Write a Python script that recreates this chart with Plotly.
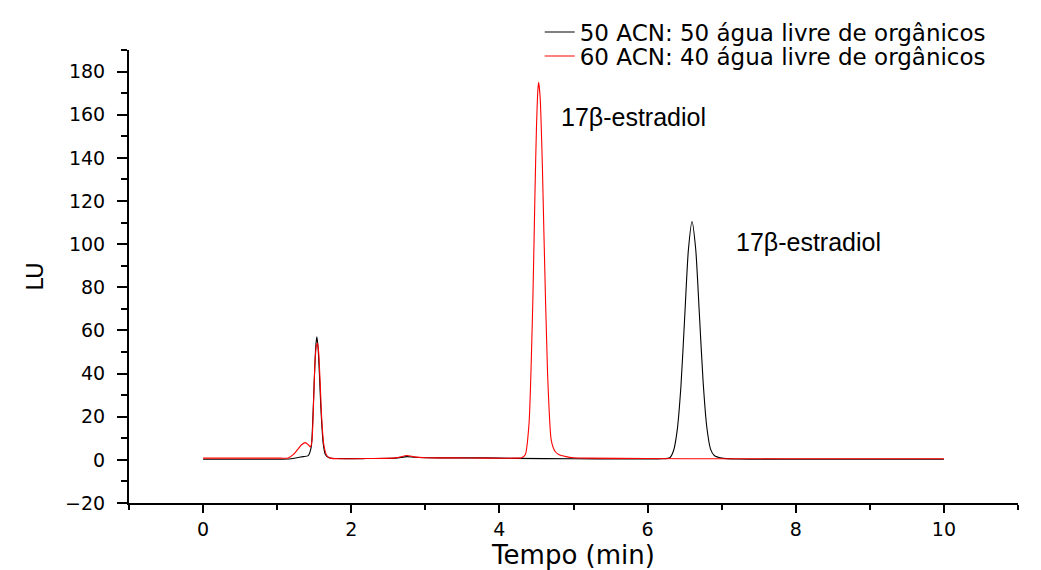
import plotly.graph_objects as go

# 50 ACN : 50 água (black)
t_black = [0.0, 0.5, 1.0, 1.15, 1.25, 1.35, 1.42, 1.46, 1.48, 1.50, 1.52, 1.535, 1.55, 1.57, 1.59, 1.62, 1.65, 1.70, 1.80,
           2.2, 2.6, 2.75, 2.85, 3.0, 3.4, 3.8, 4.2, 5.0, 5.6, 6.0, 6.2, 6.30, 6.35, 6.40, 6.45, 6.50, 6.55, 6.60,
           6.65, 6.70, 6.75, 6.80, 6.85, 6.90, 7.0, 7.2, 8.0, 9.0, 10.0]
v_black = [0.3, 0.3, 0.3, 0.4, 0.9, 1.5, 2.0, 6.0, 18.0, 36.0, 52.0, 57.0, 53.0, 40.0, 24.0, 8.0, 2.5, 1.0, 0.6,
           0.6, 0.8, 1.5, 1.2, 1.0, 0.9, 0.9, 0.7, 0.5, 0.4, 0.4, 0.5, 1.0, 4.2, 13.8, 34.0, 65.5, 97.0, 110.5,
           97.5, 67.0, 36.0, 15.0, 5.0, 2.0, 0.8, 0.4, 0.3, 0.3, 0.3]

# 60 ACN : 40 água (red)
t_red = [0.0, 0.5, 1.0, 1.15, 1.22, 1.28, 1.33, 1.38, 1.42, 1.45, 1.47, 1.49, 1.51, 1.53, 1.545, 1.56, 1.58, 1.60, 1.63,
         1.67, 1.72, 1.85, 2.2, 2.6, 2.75, 2.85, 3.0, 3.4, 3.8, 4.2, 4.30, 4.35, 4.40, 4.45, 4.48, 4.50, 4.52, 4.53,
         4.55, 4.58, 4.60, 4.65, 4.70, 4.75, 4.80, 4.90, 5.0, 5.2, 6.0, 7.0, 8.0, 9.0, 10.0]
v_red = [0.8, 0.8, 0.8, 0.9, 2.5, 5.0, 7.0, 8.0, 7.0, 6.0, 9.0, 25.0, 45.0, 53.0, 54.0, 50.0, 36.0, 20.0, 7.0,
         2.0, 0.8, 0.5, 0.6, 0.9, 2.0, 1.4, 1.0, 0.9, 0.8, 0.8, 1.0, 2.5, 17.0, 72.0, 124.0, 154.0, 172.0, 175.0,
         168.0, 136.0, 106.0, 40.0, 9.0, 4.0, 2.5, 1.5, 1.0, 0.8, 0.6, 0.5, 0.5, 0.5, 0.5]

series_names = ["50 ACN: 50 água livre de orgânicos", "60 ACN: 40 água livre de orgânicos"]
peak_labels = ["17β-estradiol", "17β-estradiol"]
label_x = [4.80, 7.17]
label_y = [159, 101]

ARIAL = "Liberation Sans, Arial, sans-serif"
WIDE = "DejaVu Sans, Liberation Sans, sans-serif"

fig = go.Figure()
fig.add_trace(go.Scatter(x=t_black, y=v_black, mode="lines", name=series_names[0], legend="legend",
                         line=dict(color="#000000", width=1.1, shape="spline", smoothing=0.6)))
fig.add_trace(go.Scatter(x=t_red, y=v_red, mode="lines", name=series_names[1], legend="legend2",
                         line=dict(color="#ff0000", width=1.1, shape="spline", smoothing=0.6)))

for lx, ly, txt in zip(label_x, label_y, peak_labels):
    fig.add_annotation(x=lx, y=ly, text=txt, showarrow=False, xanchor="left", yanchor="middle",
                       font=dict(family=ARIAL, size=25, color="#000000"))

leg_common = dict(xanchor="left", yanchor="middle", bgcolor="rgba(0,0,0,0)", borderwidth=0,
                  font=dict(family=WIDE, size=23, color="#000000"), itemwidth=30)

fig.update_layout(
    width=1033, height=562,
    margin=dict(l=121, r=23, t=42, b=67, autoexpand=False),
    paper_bgcolor="white", plot_bgcolor="white",
    font=dict(family=ARIAL, color="#000000"),
    showlegend=True,
    legend=dict(x=0.462, y=1.0395, **leg_common),
    legend2=dict(x=0.462, y=0.9865, **leg_common),
    xaxis=dict(range=[-1, 11], showline=True, linecolor="#000000", linewidth=2, showgrid=False, zeroline=False,
               ticks="outside", tickmode="linear", tick0=0, dtick=2, ticklen=8, tickwidth=1.5, tickcolor="#000000",
               minor=dict(ticks="outside", tick0=0, dtick=1, ticklen=5, tickwidth=1.5, tickcolor="#000000", showgrid=False),
               tickfont=dict(family=WIDE, size=19),
               title=dict(text="Tempo (min)", font=dict(family=WIDE, size=26), standoff=14)),
    yaxis=dict(range=[-20, 190], showline=True, linecolor="#000000", linewidth=2, showgrid=False, zeroline=False,
               ticks="outside", tickmode="linear", tick0=0, dtick=20, ticklen=10, tickwidth=1.5, tickcolor="#000000",
               minor=dict(ticks="outside", tick0=0, dtick=10, ticklen=6, tickwidth=1.5, tickcolor="#000000", showgrid=False),
               tickfont=dict(family=WIDE, size=19), ticklabelstandoff=8,
               title=dict(text="LU", font=dict(family=WIDE, size=23), standoff=15)),
)

fig.write_html("out.html")
